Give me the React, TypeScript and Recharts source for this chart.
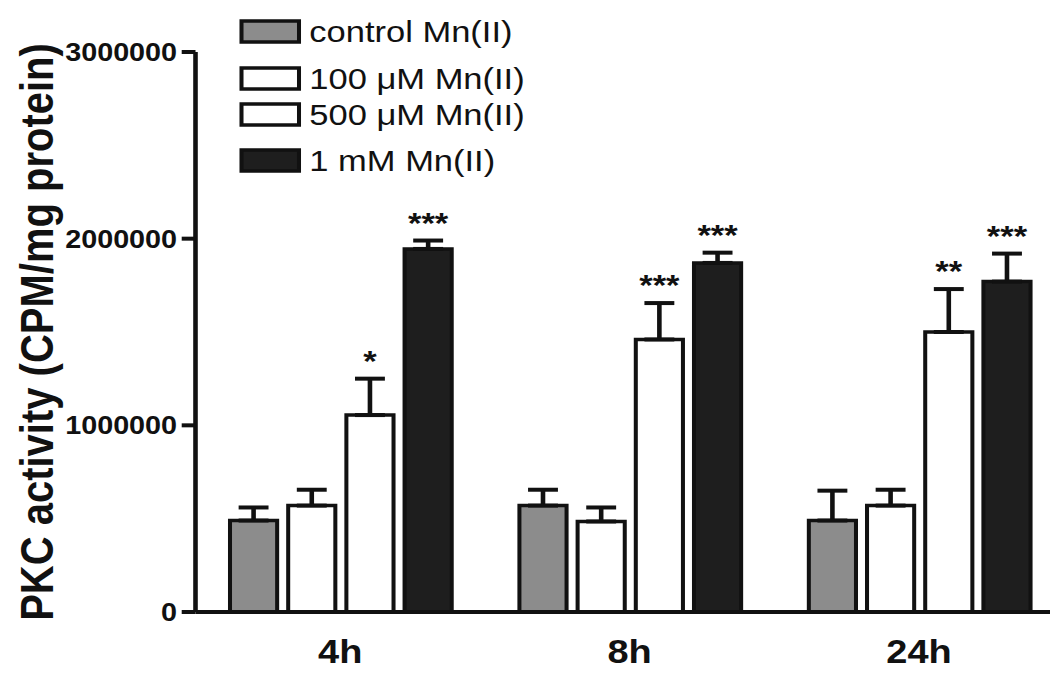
import { Bar, BarChart, ErrorBar, LabelList, Legend, XAxis, YAxis } from "recharts";

const categories = ["4h", "8h", "24h"];
const controlMn = [490000, 570000, 490000];
const controlErr = [70000, 85000, 160000];
const mn100 = [570000, 485000, 570000];
const mn100Err = [85000, 75000, 85000];
const mn500 = [1055000, 1460000, 1500000];
const mn500Err = [195000, 195000, 230000];
const mn1000 = [1945000, 1870000, 1770000];
const mn1000Err = [45000, 55000, 150000];
const stars500 = ["*", "***", "**"];
const stars1000 = ["***", "***", "***"];
const seriesNames = ["control Mn(II)", "100 \u03bcM Mn(II)", "500 \u03bcM Mn(II)", "1 mM Mn(II)"];
const yTicks = [0, 1000000, 2000000, 3000000];

const FONT = '"Liberation Sans", Arial, Helvetica, sans-serif';
const INK = "#111";
const FILLS = ["#8c8c8c", "#ffffff", "#ffffff", "#1e1e1e"];
// the original figure is stretched sideways a bit
const STRETCH = 1.15;

const data = categories.map((name, i) => ({
  name,
  control: controlMn[i],
  controlErr: [0, controlErr[i]],
  m100: mn100[i],
  m100Err: [0, mn100Err[i]],
  m500: mn500[i],
  m500Err: [0, mn500Err[i]],
  m500Stars: stars500[i],
  m1000: mn1000[i],
  m1000Err: [0, mn1000Err[i]],
  m1000Stars: stars1000[i],
}));

// stars sit just above the error bar cap
const starLabel = (values: number[], errs: number[]) => (props: any) => {
  const { index, value } = props;
  if (!value) return null;
  const vb = props.viewBox ?? props;
  const { x, y, width, height } = vb;
  const perUnit = height / values[index];
  const capY = y - errs[index] * perUnit;
  return (
    <text
      x={x + width / 2}
      y={capY - 8}
      textAnchor="middle"
      fontSize={30}
      fontWeight="bold"
      fontFamily={FONT}
      fill={INK}
    >
      {value}
    </text>
  );
};

const rowTops = [21, 68, 104, 150];

const LegendBox = () => (
  <svg width={600} height={190}>
    {seriesNames.map((name, i) => (
      <g key={name}>
        <rect
          x={210}
          y={rowTops[i]}
          width={50}
          height={21}
          fill={FILLS[i]}
          stroke={INK}
          strokeWidth={3.5}
        />
        <text
          x={269}
          y={rowTops[i] + 10.5}
          dy="0.36em"
          fontSize={30}
          fontFamily={FONT}
          fill={INK}
        >
          {name}
        </text>
      </g>
    ))}
  </svg>
);

const YLabel = (props: any) => {
  const vb = props.viewBox;
  const cx = vb.x + 32;
  const cy = vb.y + vb.height / 2;
  return (
    <text
      x={cx}
      y={cy}
      transform={`rotate(-90, ${cx}, ${cy})`}
      textAnchor="middle"
      dominantBaseline="central"
      fontSize={40}
      fontWeight="bold"
      fontFamily={FONT}
      fill={INK}
    >
      PKC activity (CPM/mg protein)
    </text>
  );
};

const axisStroke = { stroke: INK, strokeWidth: 4 };

export default function App() {
  return (
    <div
      style={{
        position: "absolute",
        left: 0,
        top: 0,
        width: 1050,
        height: 673,
        overflow: "hidden",
        background: "#fff",
      }}
    >
      <div style={{ width: 925, height: 673, transform: `scaleX(${STRETCH})`, transformOrigin: "0 0" }}>
        <BarChart
          width={925}
          height={673}
          data={data}
          margin={{ top: 52, right: 0, bottom: 0, left: 0 }}
          barCategoryGap={30}
          barGap={9.6}
        >
          <XAxis
            dataKey="name"
            height={61}
            interval={0}
            tickLine={false}
            tickSize={0}
            tickMargin={28}
            axisLine={axisStroke}
            tick={{ fontSize: 33, fontWeight: "bold", fill: INK, fontFamily: FONT }}
          />
          <YAxis
            width={170}
            domain={[0, 3000000]}
            ticks={yTicks}
            interval={0}
            tickSize={12}
            tickMargin={4}
            axisLine={axisStroke}
            tickLine={axisStroke}
            tick={{ fontSize: 25, fontWeight: "bold", fill: INK, fontFamily: FONT }}
            tickFormatter={(v: number) => String(v)}
            label={{ content: (p: any) => <YLabel {...p} /> }}
          />
          <Legend
            layout="vertical"
            align="center"
            verticalAlign="middle"
            wrapperStyle={{ top: 0, left: 0, width: 600, height: 190 }}
            content={() => <LegendBox />}
          />
          <Bar dataKey="control" name={seriesNames[0]} fill={FILLS[0]} stroke={INK} strokeWidth={3.5} isAnimationActive={false}>
            <ErrorBar dataKey="controlErr" direction="y" width={13} stroke={INK} strokeWidth={4} isAnimationActive={false} />
          </Bar>
          <Bar dataKey="m100" name={seriesNames[1]} fill={FILLS[1]} stroke={INK} strokeWidth={3.5} isAnimationActive={false}>
            <ErrorBar dataKey="m100Err" direction="y" width={13} stroke={INK} strokeWidth={4} isAnimationActive={false} />
          </Bar>
          <Bar dataKey="m500" name={seriesNames[2]} fill={FILLS[2]} stroke={INK} strokeWidth={3.5} isAnimationActive={false}>
            <ErrorBar dataKey="m500Err" direction="y" width={13} stroke={INK} strokeWidth={4} isAnimationActive={false} />
            <LabelList dataKey="m500Stars" content={starLabel(mn500, mn500Err)} />
          </Bar>
          <Bar dataKey="m1000" name={seriesNames[3]} fill={FILLS[3]} stroke={INK} strokeWidth={3.5} isAnimationActive={false}>
            <ErrorBar dataKey="m1000Err" direction="y" width={13} stroke={INK} strokeWidth={4} isAnimationActive={false} />
            <LabelList dataKey="m1000Stars" content={starLabel(mn1000, mn1000Err)} />
          </Bar>
        </BarChart>
      </div>
    </div>
  );
}
